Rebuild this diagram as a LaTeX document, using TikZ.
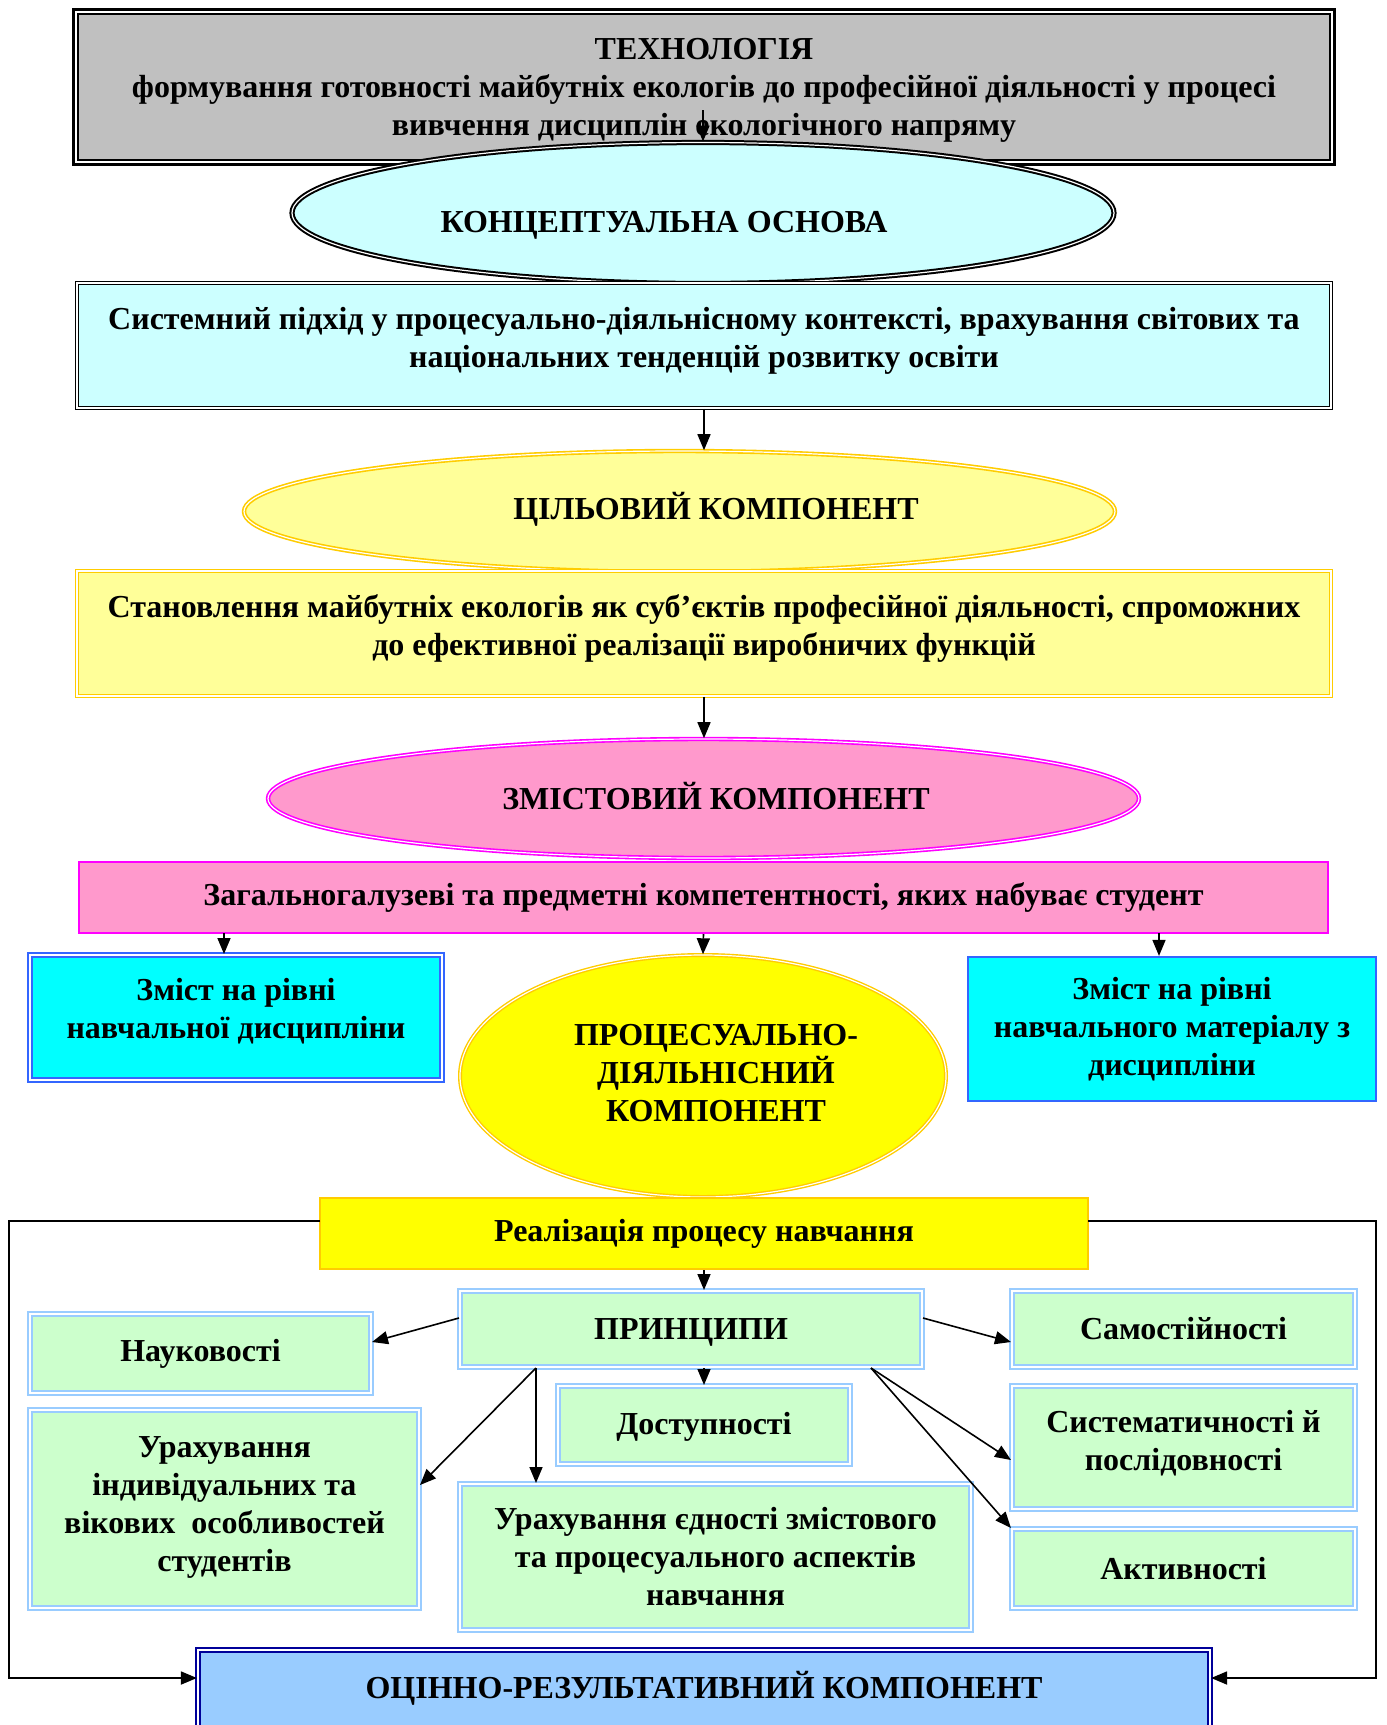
\documentclass[tikz,border=0pt]{standalone}
\usepackage{fontspec}
\setmainfont{Liberation Serif}
\usetikzlibrary{shapes.geometric,arrows.meta}
\definecolor{cgray}{HTML}{C0C0C0}
\definecolor{clcyan}{HTML}{CCFFFF}
\definecolor{clyel}{HTML}{FFFF99}
\definecolor{cgold}{HTML}{FFCC00}
\definecolor{cpink}{HTML}{FF99CC}
\definecolor{cmag}{HTML}{FF00FF}
\definecolor{ccyan}{HTML}{00FFFF}
\definecolor{cblue}{HTML}{3366FF}
\definecolor{cyel}{HTML}{FFFF00}
\definecolor{cgreen}{HTML}{CCFFCC}
\definecolor{cpale}{HTML}{99CCFF}
\definecolor{cnavy}{HTML}{000099}
% move text up (#1 = twice the lift) or down inside a fixed-size box
\newcommand\txtup[2]{\raisebox{0pt}[\height][\dimexpr\depth+#1\relax]{\begin{tabular}{@{}c@{}}#2\end{tabular}}}
\newcommand\txtdn[2]{\raisebox{0pt}[\dimexpr\height+#1\relax][\depth]{\begin{tabular}{@{}c@{}}#2\end{tabular}}}
\tikzset{
  txt/.style={font=\bfseries\fontsize{16}{19}\selectfont, align=center, inner sep=0pt},
  box/.style={txt, rectangle},
  ell/.style={ellipse, inner sep=0pt},
  dbl/.style={double=white, line width=#1, double distance=0.6pt},
  dbl/.default=0.7pt,
  arr/.style={-{Triangle[length=8pt,width=6.5pt]}, line width=0.8pt},
}
\begin{document}
\begin{tikzpicture}[x=0.5pt,y=-0.5pt]
\useasboundingbox (0,0) rectangle (1387,1725);
% top box
\node[box, fill=cgray, draw=black, line width=3.2pt, minimum width=629pt, minimum height=76pt] (tech) at (704,87) {};
\draw[white, line width=1pt] ([shift={(2.3pt,-2.3pt)}]tech.north west) rectangle ([shift={(-2.3pt,2.3pt)}]tech.south east);
\draw[black, line width=0.7pt] ([shift={(3.3pt,-3.3pt)}]tech.north west) rectangle ([shift={(-3.3pt,3.3pt)}]tech.south east);
\node[txt] (techt) at (704,90.4) {ТЕХНОЛОГІЯ\\формування готовності майбутніх екологів до професійної діяльності у процесі\\вивчення дисциплін екологічного напряму};
% ellipse 1
\node[ell, fill=clcyan, draw=black, dbl=1pt, minimum width=411pt, minimum height=70.5pt] (ell1) at (703,213) {};
\node[txt] (ell1t) at (664,225.4) {КОНЦЕПТУАЛЬНА ОСНОВА};
\coordinate (t0) at (703,110);
\draw[arr] (t0) -- (ell1.north);
% system box
\node[box, fill=clcyan, draw=black, dbl=0.9pt, minimum width=627pt, minimum height=62.5pt] (sys) at (704,345.5) {\txtup{4.4pt}{Системний підхід у процесуально-діяльнісному контексті, врахування світових та\\національних тенденцій розвитку освіти}};
% ellipse 2
\node[ell, fill=clyel, draw=cgold, dbl=0.8pt, minimum width=435.5pt, minimum height=60.5pt] (ell2) at (679.5,511.5) {};
\node[txt] (ell2t) at (716,509) {ЦІЛЬОВИЙ КОМПОНЕНТ};
\draw[arr] (sys.south) -- (sys.south |- ell2.north);
% goal box
\node[box, fill=clyel, draw=cgold, dbl=0.8pt, minimum width=627pt, minimum height=62.5pt] (goal) at (704,633.5) {\txtup{4.4pt}{Становлення майбутніх екологів як суб’єктів професійної діяльності, спроможних\\до ефективної реалізації виробничих функцій}};
% ellipse 3
\node[ell, fill=cpink, draw=cmag, dbl=0.8pt, minimum width=435.5pt, minimum height=59.5pt] (ell3) at (703.5,798.5) {};
\node[txt] (ell3t) at (716,796) {ЗМІСТОВИЙ КОМПОНЕНТ};
\draw[arr] (goal.south) -- (goal.south |- ell3.north);
% pink box
\node[box, fill=cpink, draw=cmag, line width=1pt, minimum width=624.5pt, minimum height=35.5pt] (pinkb) at (703.5,897.5) {Загальногалузеві та предметні компетентності, яких набуває студент};
% level-3 nodes
\node[box, fill=ccyan, draw=cblue, dbl=1pt, minimum width=206pt, minimum height=62.5pt] (cyanL) at (236,1017.5) {\txtup{5.5pt}{Зміст на рівні\\навчальної дисципліни}};
\node[ell, fill=cyel, draw=cgold, dbl=0.7pt, minimum width=243pt, minimum height=121pt] (ell4) at (703,1076) {};
\node[txt] (ell4t) at (716,1073) {ПРОЦЕСУАЛЬНО-\\ДІЯЛЬНІСНИЙ\\КОМПОНЕНТ};
\node[box, fill=ccyan, draw=cblue, line width=1.1pt, minimum width=204pt, minimum height=72pt] (cyanR) at (1172,1029) {Зміст на рівні\\навчального матеріалу з\\дисципліни};
\coordinate (pL) at (224,933);
\coordinate (pR) at (1159,933);
\draw[arr] (pL) -- (pL |- cyanL.north);
\draw[arr] (pinkb.south) -- (ell4.north);
\draw[arr] (pR) -- (pR |- cyanR.north);
% realization
\node[box, fill=cyel, draw=cgold, line width=1pt, minimum width=384pt, minimum height=35.5pt] (real) at (704,1233.5) {Реалізація процесу навчання};
% principles
\tikzset{gbox/.style={box, fill=cgreen, draw=cpale, dbl=1pt}}
\node[gbox, minimum width=231pt, minimum height=38pt] (princ) at (691,1329) {\txtdn{3.3pt}{ПРИНЦИПИ}};
\node[gbox, minimum width=170.5pt, minimum height=39.5pt] (nauk) at (200.5,1353.5) {Науковості};
\node[gbox, minimum width=146pt, minimum height=39pt] (dost) at (704,1425) {\txtdn{2.2pt}{Доступності}};
\node[gbox, minimum width=194.5pt, minimum height=99pt] (indiv) at (224.5,1509) {\txtup{2.2pt}{Урахування\\індивідуальних та\\вікових~~особливостей\\студентів}};
\node[gbox, minimum width=255.5pt, minimum height=73pt] (unity) at (715.5,1557) {Урахування єдності змістового\\та процесуального аспектів\\навчання};
\node[gbox, minimum width=171.5pt, minimum height=38pt] (sam) at (1183.5,1329) {Самостійності};
\node[gbox, minimum width=171.5pt, minimum height=61.5pt] (syst) at (1183.5,1447.5) {\txtup{3.3pt}{Систематичності й\\послідовності}};
\node[gbox, minimum width=171.5pt, minimum height=39.5pt] (akt) at (1183.5,1568.5) {Активності};
% evaluation
\node[box, fill=cpale, draw=cnavy, dbl=1.1pt, minimum width=506pt, minimum height=44pt] (eval) at (704,1694) {\txtup{3.3pt}{ОЦІННО-РЕЗУЛЬТАТИВНИЙ КОМПОНЕНТ}};
% frame
\coordinate (rl) at (320,1221);
\coordinate (rr) at (1088,1221);
\coordinate (fl1) at (9,1221);
\coordinate (fl2) at (9,1678);
\coordinate (fr1) at (1376,1221);
\coordinate (fr2) at (1376,1678);
\draw[arr, line width=0.9pt] (rl) -- (fl1) -- (fl2) -- (fl2 -| eval.west);
\draw[arr, line width=0.9pt] (rr) -- (fr1) -- (fr2) -- (fr2 -| eval.east);
% arrows from realization / principles
\draw[arr] (real.south) -- (real.south |- princ.north);
\draw[arr] (princ.south -| dost.north) -- (dost.north);
\draw[arr] ([yshift=5.5pt]princ.west) -- ([yshift=5.75pt]nauk.east);
\draw[arr] ([yshift=5.5pt]princ.east) -- ([yshift=-6.5pt]sam.west);
\coordinate (pl) at ([xshift=-77.5pt]princ.south);
\coordinate (pr) at ([xshift=90pt]princ.south);
\draw[arr] (pl) -- ([yshift=12pt]indiv.east);
\draw[arr] (pl) -- (pl |- unity.north);
\draw[arr] (pr) -- ([yshift=-6.25pt]syst.west);
\draw[arr] (pr) -- (akt.north west);
\end{tikzpicture}
\end{document}
